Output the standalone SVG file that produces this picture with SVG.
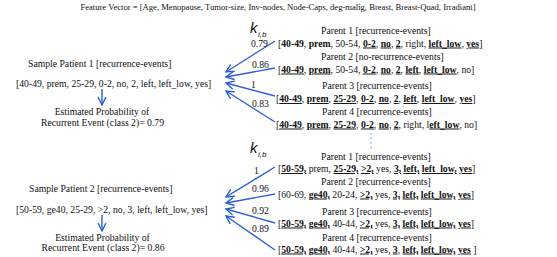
<svg xmlns="http://www.w3.org/2000/svg" width="557" height="257" viewBox="0 0 557 257">
<style>
text{font-family:"Liberation Serif","Times New Roman",serif;font-size:9.7px;fill:#111}
.t{font-size:8.6px}
.b{font-weight:bold}
.u{font-weight:bold;text-decoration:underline}
.k{font-family:"Liberation Sans",Arial,sans-serif;font-style:italic;font-size:15px}
.ks{font-family:"Liberation Sans",Arial,sans-serif;font-style:italic;font-size:8px}
.ln{stroke:#2d5fd6;stroke-width:1.4;fill:none}
.dot{stroke:#8cc0f2;stroke-width:1.6;stroke-dasharray:1.6 3;fill:none}
</style>
<defs>
<marker id="ad" markerWidth="10" markerHeight="10" refX="9" refY="5" orient="auto" markerUnits="userSpaceOnUse">
<path d="M1,1 L9,5 L1,9" fill="none" stroke="#2d5fd6" stroke-width="1.4"/>
</marker>
</defs>
<text class="t" x="278" y="9.5" text-anchor="middle">Feature Vector = [Age, Menopause, Tumor-size, Inv-nodes, Node-Caps, deg-malig, Breast, Breast-Quad, Irradiant]</text>

<g id="sample1">
<text x="28" y="66.5">Sample Patient 1 [recurrence-events]</text>
<text x="16" y="86.5">[40-49, prem, 25-29, 0-2, no, 2, left, left_low, yes]</text>
</g>
<g id="estimate1">
<text x="102" y="114.5" text-anchor="middle">Estimated Probability of</text>
<text x="102.5" y="125.5" text-anchor="middle">Recurrent Event (class 2)= 0.79</text>
</g>
<g id="sample2">
<text x="29" y="191.5">Sample Patient 2 [recurrence-events]</text>
<text x="16" y="212.5">[50-59, ge40, 25-29, &gt;2, no, 3, left, left_low, yes]</text>
</g>
<g id="estimate2">
<text x="102.5" y="240.5" text-anchor="middle">Estimated Probability of</text>
<text x="103" y="251" text-anchor="middle">Recurrent Event (class 2)= 0.86</text>
</g>

<g id="k1"><text class="k" x="250" y="33">k</text><text class="ks" x="258" y="37">i,b</text></g>
<g id="k2"><text class="k" x="250" y="153">k</text><text class="ks" x="258" y="157">i,b</text></g>

<g id="p1a">
<text x="321" y="33.5">Parent 1 [recurrence-events]</text>
<text x="278" y="46.5">[<tspan class="b">40-49</tspan>, <tspan class="b">prem</tspan>, 50-54, <tspan class="u">0-2</tspan>, <tspan class="u">no</tspan>, <tspan class="u">2</tspan>, right, <tspan class="u">left_low</tspan>, <tspan class="u">yes</tspan>]</text>
</g>
<g id="p2a">
<text x="321" y="59.5">Parent 2 [no-recurrence-events]</text>
<text x="278" y="72.5">[<tspan class="u">40-49</tspan>, <tspan class="u">prem</tspan>, 50-54, <tspan class="u">0-2</tspan>, <tspan class="u">no</tspan>, <tspan class="u">2</tspan>, <tspan class="u">left</tspan>, <tspan class="u">left_low</tspan>, no]</text>
</g>
<g id="p3a">
<text x="322" y="89">Parent 3 [recurrence-events]</text>
<text x="276" y="102">[<tspan class="u">40-49</tspan>, <tspan class="u">prem</tspan>, <tspan class="u">25-29</tspan>, <tspan class="u">0-2</tspan>, <tspan class="u">no</tspan>, <tspan class="u">2</tspan>, <tspan class="u">left</tspan>, <tspan class="u">left_low</tspan>, <tspan class="u">yes</tspan>]</text>
</g>
<g id="p4a">
<text x="322" y="115">Parent 4 [recurrence-events]</text>
<text x="276" y="127.5">[<tspan class="u">40-49</tspan>, <tspan class="u">prem</tspan>, <tspan class="u">25-29</tspan>, <tspan class="u">0-2</tspan>, <tspan class="u">no</tspan>, <tspan class="u">2</tspan>, right, l<tspan class="u">eft_low</tspan>, no]</text>
</g>

<g id="p1b">
<text x="321" y="159.5">Parent 1 [recurrence-events]</text>
<text x="278" y="172">[<tspan class="u">50-59,</tspan> prem, <tspan class="u">25-29,</tspan> <tspan class="u">&gt;2,</tspan> yes, <tspan class="u">3,</tspan> <tspan class="u">left,</tspan> <tspan class="u">left_low,</tspan> <tspan class="u">yes</tspan>]</text>
</g>
<g id="p2b">
<text x="321" y="185">Parent 2 [recurrence-events]</text>
<text x="278" y="197.5">[60-69, <tspan class="u">ge40,</tspan> 20-24, <tspan class="u">&gt;2,</tspan> yes, <tspan class="u">3,</tspan> <tspan class="u">left,</tspan> <tspan class="u">left_low,</tspan> <tspan class="u">yes</tspan>]</text>
</g>
<g id="p3b">
<text x="322" y="214.5">Parent 3 [recurrence-events]</text>
<text x="278" y="226.5">[<tspan class="u">50-59,</tspan> <tspan class="u">ge40,</tspan> 40-44, <tspan class="u">&gt;2,</tspan> yes, <tspan class="u">3,</tspan> <tspan class="u">left,</tspan> <tspan class="u">left_low,</tspan> <tspan class="u">yes</tspan>]</text>
</g>
<g id="p4b">
<text x="322" y="240.5">Parent 4 [recurrence-events]</text>
<text x="278" y="252.5">[<tspan class="u">50-59,</tspan> <tspan class="u">ge40,</tspan> 40-44, <tspan class="u">&gt;2,</tspan> yes, <tspan class="u">3</tspan>, <tspan class="u">left,</tspan> <tspan class="u">left_low,</tspan> <tspan class="u">yes</tspan> ]</text>
</g>

<g id="connectors">
<line class="ln" x1="275" y1="41" x2="226" y2="72" marker-end="url(#ad)"/>
<line class="ln" x1="275" y1="68" x2="226" y2="77" marker-end="url(#ad)"/>
<line class="ln" x1="275" y1="96" x2="226" y2="83" marker-end="url(#ad)"/>
<line class="ln" x1="275" y1="122" x2="226" y2="91" marker-end="url(#ad)"/>
<line class="ln" x1="275" y1="167" x2="226" y2="197" marker-end="url(#ad)"/>
<line class="ln" x1="275" y1="194" x2="226" y2="203" marker-end="url(#ad)"/>
<line class="ln" x1="275" y1="223" x2="226" y2="209" marker-end="url(#ad)"/>
<line class="ln" x1="275" y1="250" x2="226" y2="216" marker-end="url(#ad)"/>
<line class="ln" x1="102" y1="89" x2="102" y2="105" marker-end="url(#ad)"/>
<line class="ln" x1="102" y1="215" x2="102" y2="231" marker-end="url(#ad)"/>
<line class="dot" x1="371" y1="133" x2="371" y2="150"/>
<text x="251" y="47">0.79</text>
<text x="252" y="67.5">0.86</text>
<text x="251" y="88">1</text>
<text x="252" y="107">0.83</text>
<text x="254" y="174">1</text>
<text x="252" y="192">0.96</text>
<text x="252" y="214">0.92</text>
<text x="252" y="232">0.89</text>
</g>
</svg>
